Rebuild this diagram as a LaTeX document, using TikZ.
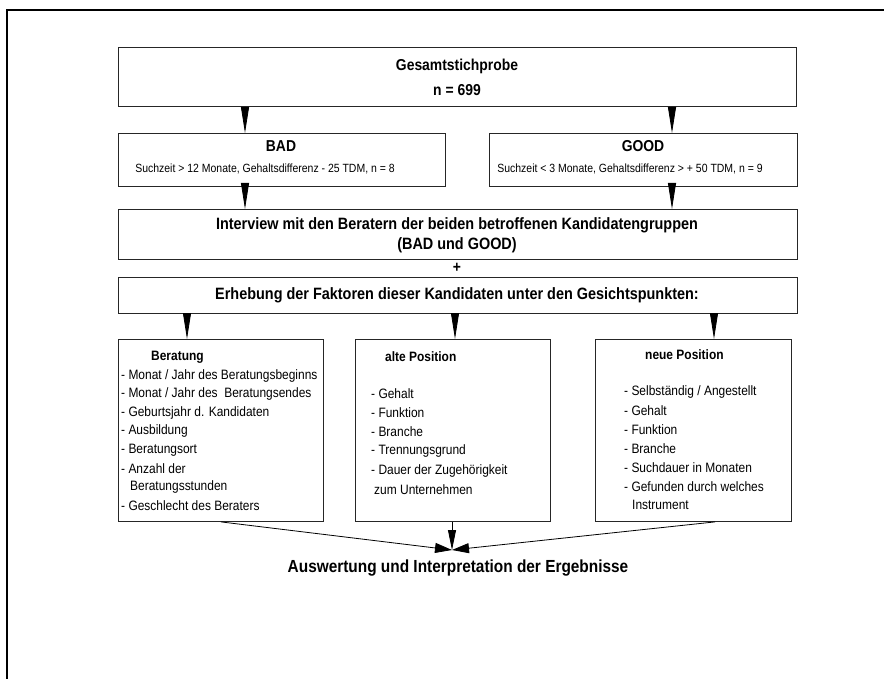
\documentclass[tikz,border=0pt]{standalone}
\usepackage{fontspec}
\setmainfont{Liberation Sans}[FakeStretch=0.88]
\usetikzlibrary{arrows.meta}
\begin{document}
\begin{tikzpicture}[x=1pt,y=-1pt,
  frame/.style={draw=black, line width=1.6pt},
  box/.style={draw=black!85, line width=0.9pt, inner sep=0pt, anchor=north west},
  title/.style={font=\bfseries\fontsize{15.8}{18}\selectfont, inner sep=0pt},
  big/.style={font=\bfseries\fontsize{16.4}{18}\selectfont, inner sep=0pt},
  result/.style={font=\bfseries\fontsize{17.5}{20}\selectfont, inner sep=0pt},
  small/.style={font=\fontsize{11.9}{13}\selectfont, inner sep=0pt},
  head/.style={font=\bfseries\fontsize{13.6}{15}\selectfont, inner sep=0pt, anchor=west},
  item/.style={font=\fontsize{13.6}{15}\selectfont, inner sep=0pt, anchor=west},
  longtip/.style={line width=0.8pt, -{Triangle[length=26pt,width=8pt]}},
  shorttip/.style={line width=0.8pt, -{Triangle[length=17pt,width=10pt]}},
  downtip/.style={line width=0.8pt, -{Triangle[length=20pt,width=8pt]}}
]
\useasboundingbox (0,0) rectangle (884,679);

% outer frame
\draw[frame] (7,679) -- (7,10) -- (884,10);

% boxes
\node[box, minimum width=678pt, minimum height=59pt] (gesamt) at (118,47) {};
\node[box, minimum width=327pt, minimum height=53pt] (bad) at (118,133) {};
\node[box, minimum width=308pt, minimum height=53pt] (good) at (489,133) {};
\node[box, minimum width=679pt, minimum height=50pt] (interview) at (118,209) {};
\node[box, minimum width=679pt, minimum height=36pt] (erhebung) at (118,277) {};
\node[box, minimum width=205pt, minimum height=182pt] (beratung) at (118,339) {};
\node[box, minimum width=195pt, minimum height=182pt] (alte) at (355,339) {};
\node[box, minimum width=196pt, minimum height=182pt] (neue) at (595,339) {};

% box texts
\node[title] (gT1) at (457,66) {Gesamtstichprobe};
\node[title] (gT2) at (457,90) {n = 699};
\node[title] (badT) at (281,146) {BAD};
\node[small] (badS) at (265,169) {Suchzeit > 12 Monate, Gehaltsdifferenz - 25 TDM, n = 8};
\node[title] (goodT) at (643,146) {GOOD};
\node[small] (goodS) at (630,169) {Suchzeit < 3 Monate, Gehaltsdifferenz > + 50 TDM, n = 9};
\node[big] (iT1) at (457,225) {Interview mit den Beratern der beiden betroffenen Kandidatengruppen};
\node[big] (iT2) at (457,245) {(BAD und GOOD)};
\node[title] (plus) at (457,268) {+};
\node[big] (eT) at (457,295) {Erhebung der Faktoren dieser Kandidaten unter den Gesichtspunkten:};

% Beratung list
\node[head] (bH) at (151,357) {Beratung};
\node[item] (b1) at (121,375.6) {- Monat / Jahr des Beratungsbeginns};
\node[item] (b2) at (121,394.2) {- Monat / Jahr des \ Beratungsendes};
\node[item] (b3) at (121,412.8) {- Geburtsjahr d. Kandidaten};
\node[item] (b4) at (121,431.4) {- Ausbildung};
\node[item] (b5) at (121,450) {- Beratungsort};
\node[item] (b6) at (121,468.6) {- Anzahl der};
\node[item] (b7) at (130,487.2) {Beratungsstunden};
\node[item] (b8) at (121,505.8) {- Geschlecht des Beraters};

% alte Position list
\node[head] (aH) at (385,357) {alte Position};
\node[item] (a1) at (371,394) {- Gehalt};
\node[item] (a2) at (371,413) {- Funktion};
\node[item] (a3) at (371,432) {- Branche};
\node[item] (a4) at (371,451) {- Trennungsgrund};
\node[item] (a5) at (371,471) {- Dauer der Zugehörigkeit};
\node[item] (a6) at (374,490) {zum Unternehmen};

% neue Position list
\node[head] (nH) at (645,355) {neue Position};
\node[item] (n1) at (624,392) {- Selbständig / Angestellt};
\node[item] (n2) at (624,411) {- Gehalt};
\node[item] (n3) at (624,430) {- Funktion};
\node[item] (n4) at (624,449) {- Branche};
\node[item] (n5) at (624,468) {- Suchdauer in Monaten};
\node[item] (n6) at (624,487) {- Gefunden durch welches};
\node[item] (n7) at (632,505) {Instrument};

% result line
\node[result] (res) at (458,568) {Auswertung und Interpretation der Ergebnisse};

% connector columns
\coordinate (cL) at (245,0);
\coordinate (cR) at (672,0);
\coordinate (c1) at (187,0);
\coordinate (c2) at (455,0);
\coordinate (c3) at (714,0);
\coordinate (t1) at (221,0);
\coordinate (t2) at (452,0);
\coordinate (t3) at (715,0);
\coordinate (meet) at (452,550);

% connectors
\draw[longtip] (gesamt.south -| cL) -- (bad.north -| cL);
\draw[longtip] (gesamt.south -| cR) -- (good.north -| cR);
\draw[longtip] (bad.south -| cL) -- (interview.north -| cL);
\draw[longtip] (good.south -| cR) -- (interview.north -| cR);
\draw[longtip] (erhebung.south -| c1) -- (beratung.north -| c1);
\draw[longtip] (erhebung.south -| c2) -- (alte.north -| c2);
\draw[longtip] (erhebung.south -| c3) -- (neue.north -| c3);
\draw[shorttip] (beratung.south -| t1) -- (meet);
\draw[downtip] (alte.south -| t2) -- (meet);
\draw[shorttip] (neue.south -| t3) -- (meet);
\end{tikzpicture}
\end{document}
